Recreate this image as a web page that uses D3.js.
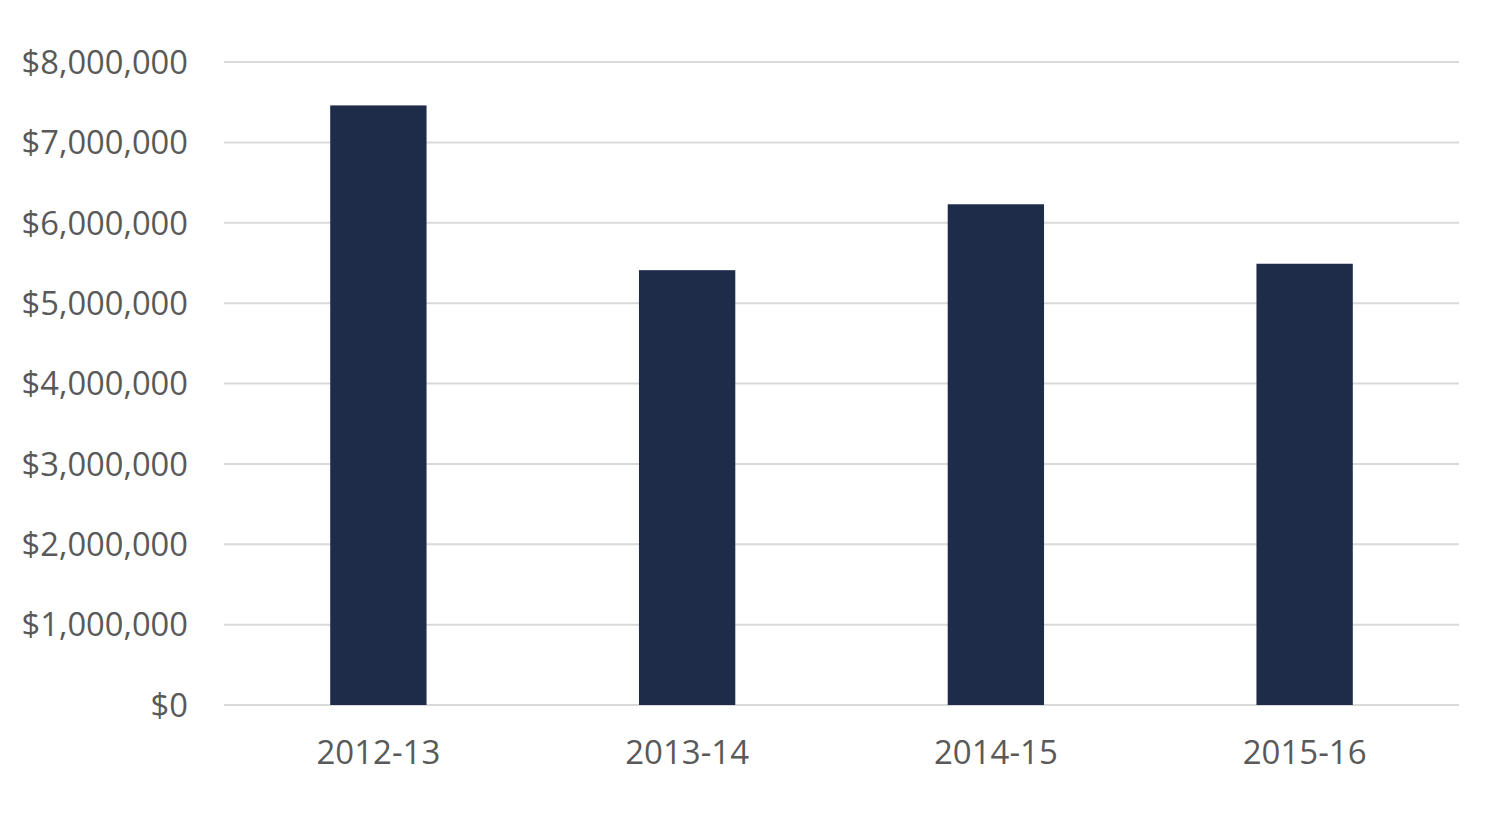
<!DOCTYPE html>
<html><head><meta charset="utf-8">
<script src="https://cdn.jsdelivr.net/npm/d3@7"></script>
<style>body{margin:0;background:#fff}svg{display:block}text{font-family:"Open Sans",sans-serif;fill:#595959}</style>
</head><body><svg id="c" width="1500" height="813"></svg>
<script>
const categories = ["2012-13","2013-14","2014-15","2015-16"];
const values = [7460000, 5410000, 6230000, 5490000];
const yTicks = [0,1000000,2000000,3000000,4000000,5000000,6000000,7000000,8000000];

(function(){
const svg = d3.select("#c");
const mLeft = 224, mRight = 1459, mTop = 62, mBottom = 705;
const x = d3.scaleBand().domain(categories).range([mLeft, mRight]).paddingInner(0.688).paddingOuter(0.344);
const y = d3.scaleLinear().domain([0, 8000000]).range([mBottom, mTop]);
const fmt = v => "$" + d3.format(",")(v);

svg.append("g").selectAll("line").data(yTicks).join("line")
  .attr("x1", mLeft).attr("x2", mRight)
  .attr("y1", d => y(d)).attr("y2", d => y(d))
  .attr("stroke", "#d9d9d9").attr("stroke-width", 2);

svg.append("g").selectAll("text").data(yTicks).join("text")
  .attr("x", 188).attr("y", d => y(d)).attr("dy", "0.36em")
  .attr("text-anchor", "end").attr("font-size", 32.7).text(fmt);

svg.append("g").selectAll("rect").data(categories).join("rect")
  .attr("x", d => x(d)).attr("width", x.bandwidth())
  .attr("y", (d,i) => y(values[i])).attr("height", (d,i) => y(0) - y(values[i]))
  .attr("fill", "#1e2c4a");

svg.append("g").selectAll("text").data(categories).join("text")
  .attr("x", d => x(d) + x.bandwidth()/2).attr("y", 752).attr("dy", "0.36em")
  .attr("text-anchor", "middle").attr("font-size", 33).text(d => d);
})();
</script></body></html>
